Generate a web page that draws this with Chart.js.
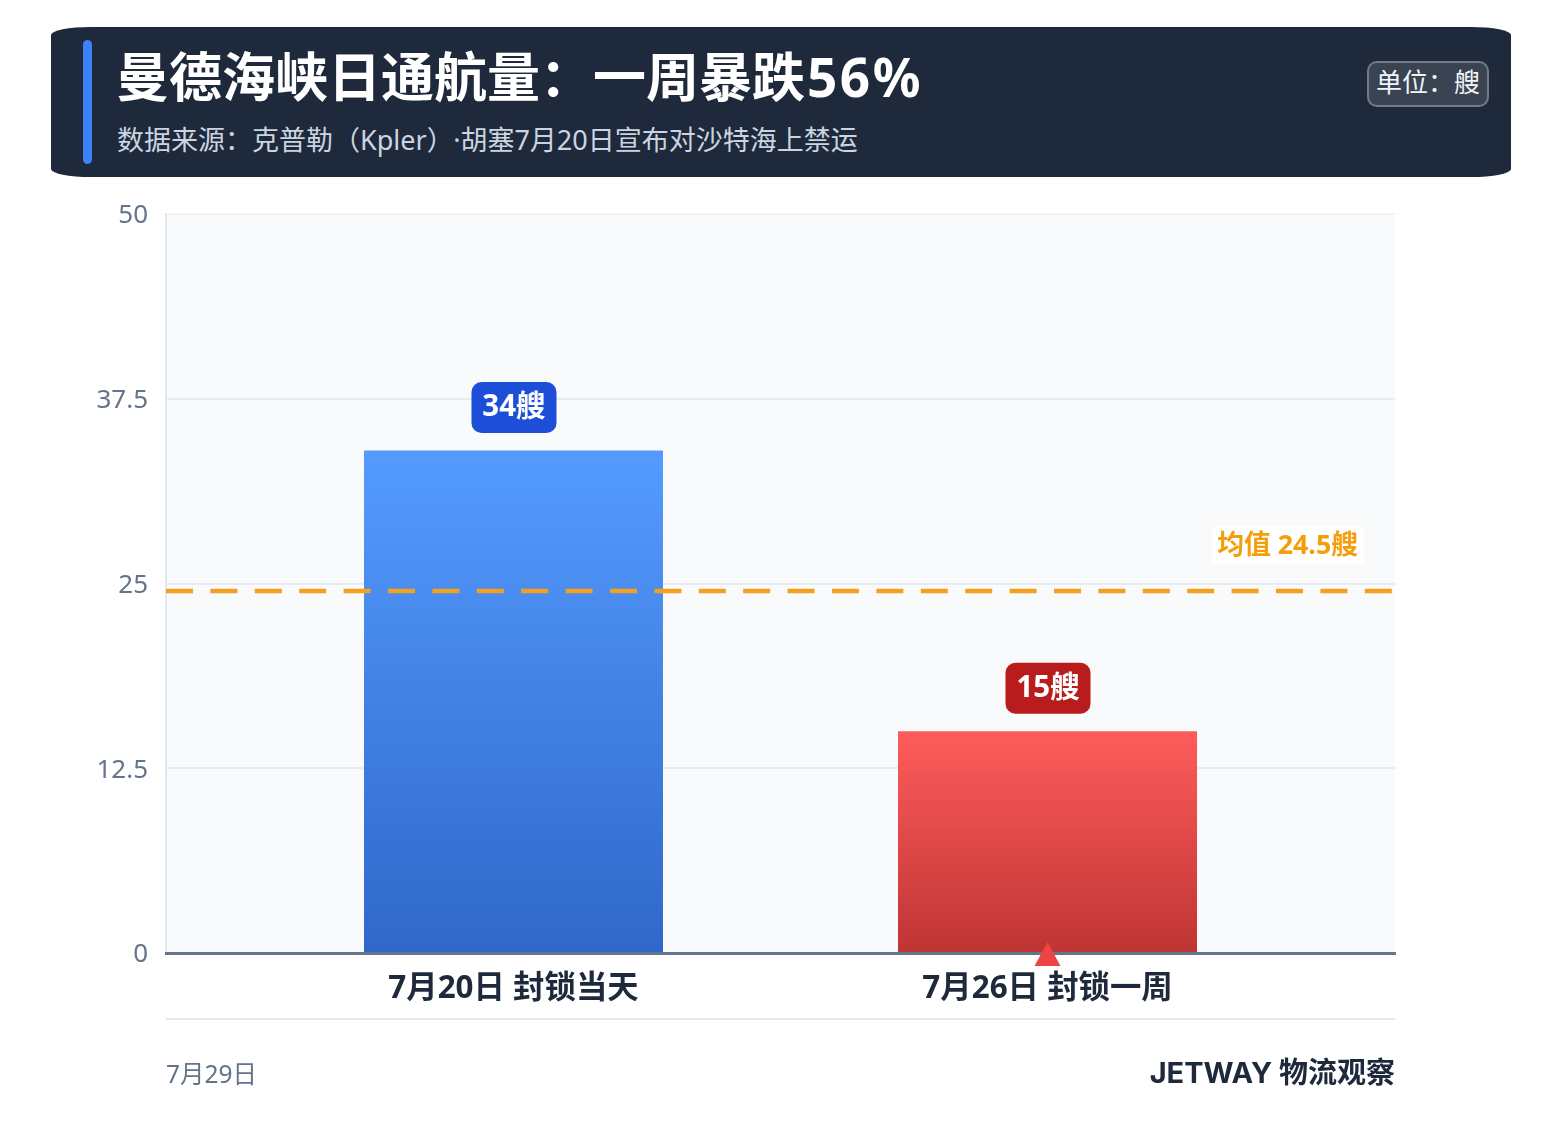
<!DOCTYPE html>
<html lang="zh-CN">
<head>
<meta charset="utf-8">
<title>曼德海峡日通航量</title>
<script src="https://cdn.jsdelivr.net/npm/chart.js@4"></script>
<style>
html,body{margin:0;padding:0;background:#fff;}
body{position:relative;width:1561px;height:1145px;overflow:hidden;font-family:"Noto Sans","Noto Sans CJK SC",sans-serif;}
canvas{position:absolute;left:0;top:0;}
.hdr{position:absolute;left:51px;top:27px;width:1460px;height:150px;background:#1e293b;border-radius:40px / 8px;}
.acc{position:absolute;left:32px;top:13px;width:9px;height:124px;background:#3b82f6;border-radius:5px;}
.ttl{position:absolute;left:65px;top:12px;font-size:53px;line-height:76px;font-weight:700;color:#fff;white-space:nowrap;}
.ttl span{letter-spacing:2.5px;margin-left:2px;}
.sub{position:absolute;left:66px;top:93px;font-size:27px;line-height:40px;color:#cbd5e1;white-space:nowrap;}
.sub span{margin-left:13px;}
.unit{position:absolute;left:1316px;top:34px;width:118px;height:42px;border:2px solid rgba(255,255,255,.3);background:rgba(255,255,255,.12);border-radius:10px;color:#f1f5f9;font-size:26px;line-height:39px;text-align:center;white-space:nowrap;}
.rule{position:absolute;left:166px;top:1018px;width:1229px;height:2px;background:#e2e8f0;}
.fl{position:absolute;left:166px;top:1056px;font-size:24.5px;line-height:36px;color:#64748b;white-space:nowrap;}
.fr{position:absolute;right:166px;top:1052px;font-size:29px;line-height:42px;font-weight:700;color:#1e293b;white-space:nowrap;font-family:Inter,"Noto Sans CJK SC",sans-serif;}
</style>
</head>
<body>
<canvas id="c" width="1561" height="1145"></canvas>
<div class="hdr">
  <div class="acc"></div>
  <div class="ttl">曼德海峡日通航量：一周暴跌<span>56%</span></div>
  <div class="sub">数据来源：克普勒（Kpler）<span>·</span>胡塞7月20日宣布对沙特海上禁运</div>
  <div class="unit">单位：艘</div>
</div>
<div class="rule"></div>
<div class="fl">7月29日</div>
<div class="fr">JETWAY 物流观察</div>
<script>
const categories = ['7月20日 封锁当天', '7月26日 封锁一周'];
const positions = [0, 1];
const ships = [34, 15];
const badgeLabels = ['34艘', '15艘'];
const meanValue = 24.5;
const meanLabel = '均值 24.5艘';
const yTicks = [0, 12.5, 25, 37.5, 50];
const xRange = [-0.6507, 1.6507];
const barTop = ['#559bff', '#ff5c5c'];
const barBottom = ['#2f68c9', '#bf3434'];
const badgeColors = ['#1d4ed8', '#b91c1c'];
const FONT = '"Noto Sans","Noto Sans CJK SC",sans-serif';

function rr(ctx, x, y, w, h, r) {
  ctx.beginPath();
  ctx.roundRect(x, y, w, h, r);
}

const decorations = {
  id: 'decorations',
  beforeDraw(chart) {
    const a = chart.chartArea, ctx = chart.ctx;
    ctx.save();
    ctx.fillStyle = '#f8fafc';
    ctx.fillRect(a.left, a.top, a.right - a.left, a.bottom - a.top);
    ctx.restore();
  },
  afterDraw(chart) {
    const ctx = chart.ctx, x = chart.scales.x, y = chart.scales.y, a = chart.chartArea;
    ctx.save();
    // value badges
    ships.forEach((v, i) => {
      const cx = x.getPixelForValue(positions[i]) + 0.5;
      const top = y.getPixelForValue(v);
      const w = 85, h = 51;
      const by = top - 17.5 - h;
      ctx.fillStyle = badgeColors[i];
      rr(ctx, cx - w / 2, by, w, h, 10);
      ctx.fill();
      ctx.fillStyle = '#fff';
      ctx.font = '700 29.5px ' + FONT;
      ctx.textAlign = 'center';
      ctx.textBaseline = 'middle';
      ctx.fillText(badgeLabels[i], cx, by + h / 2);
    });
    // mean label
    const my = y.getPixelForValue(meanValue);
    ctx.fillStyle = 'rgba(255,255,255,.92)';
    rr(ctx, a.right - 183, my - 65, 152, 38, 4);
    ctx.fill();
    ctx.fillStyle = '#f59e0b';
    ctx.font = '700 26.8px ' + FONT;
    ctx.textAlign = 'right';
    ctx.textBaseline = 'middle';
    ctx.fillText(meanLabel, a.right - 37, my - 44.5);
    // marker under the second bar
    const tx = x.getPixelForValue(positions[1]);
    const ty = y.getPixelForValue(0);
    ctx.fillStyle = '#ef4444';
    ctx.beginPath();
    ctx.moveTo(tx, ty - 11);
    ctx.lineTo(tx + 13, ty + 13);
    ctx.lineTo(tx - 13, ty + 13);
    ctx.closePath();
    ctx.fill();
    ctx.restore();
  }
};

new Chart(document.getElementById('c'), {
  data: {
    datasets: [
      {
        type: 'line',
        label: '均值',
        order: 0,
        data: xRange.map(v => ({ x: v, y: meanValue })),
        borderColor: '#f2a01e',
        borderWidth: 4.5,
        borderDash: [27, 17.4],
        pointRadius: 0,
        fill: false,
        tension: 0
      },
      {
        type: 'bar',
        label: '日通航量',
        order: 1,
        data: positions.map((p, i) => ({ x: p, y: ships[i] })),
        barPercentage: 299 / 534,
        categoryPercentage: 1,
        borderWidth: 0,
        backgroundColor(ctx) {
          const chart = ctx.chart;
          if (!chart.chartArea || ctx.dataIndex === undefined) return barTop[0];
          const i = ctx.dataIndex;
          const g = chart.ctx.createLinearGradient(0, chart.scales.y.getPixelForValue(ships[i]), 0, chart.scales.y.getPixelForValue(0));
          g.addColorStop(0, barTop[i]);
          g.addColorStop(1, barBottom[i]);
          return g;
        }
      }
    ]
  },
  plugins: [decorations],
  options: {
    responsive: false,
    animation: false,
    devicePixelRatio: 1,
    layout: { padding: { top: 214, right: 166, bottom: 0, left: 0 } },
    plugins: { legend: { display: false }, tooltip: { enabled: false } },
    scales: {
      x: {
        type: 'linear',
        offset: false,
        min: xRange[0],
        max: xRange[1],
        grid: { display: false, offset: false },
        border: { display: true, color: '#64748b', width: 3, z: 1 },
        afterBuildTicks(s) { s.ticks = positions.map(v => ({ value: v })); },
        afterFit(s) { s.height = 192; },
        ticks: {
          autoSkip: false,
          maxRotation: 0,
          minRotation: 0,
          padding: 9,
          color: '#1e293b',
          font: { family: FONT, size: 31.4, weight: '700' },
          callback: v => categories[positions.indexOf(v)]
        }
      },
      y: {
        type: 'linear',
        min: 0,
        max: 50,
        afterBuildTicks(s) { s.ticks = yTicks.map(v => ({ value: v })); },
        afterFit(s) { s.width = 166; },
        grid: {
          color: c => (c.tick && c.tick.value === 50 ? '#eef2f6' : '#e7ecf3'),
          lineWidth: 2,
          drawTicks: false
        },
        border: { display: true, color: '#e2e8f0', width: 2 },
        ticks: {
          padding: 18,
          labelOffset: 2,
          color: '#64748b',
          font: { family: FONT, size: 26 },
          callback: v => String(v)
        }
      }
    }
  }
});
</script>
</body>
</html>
